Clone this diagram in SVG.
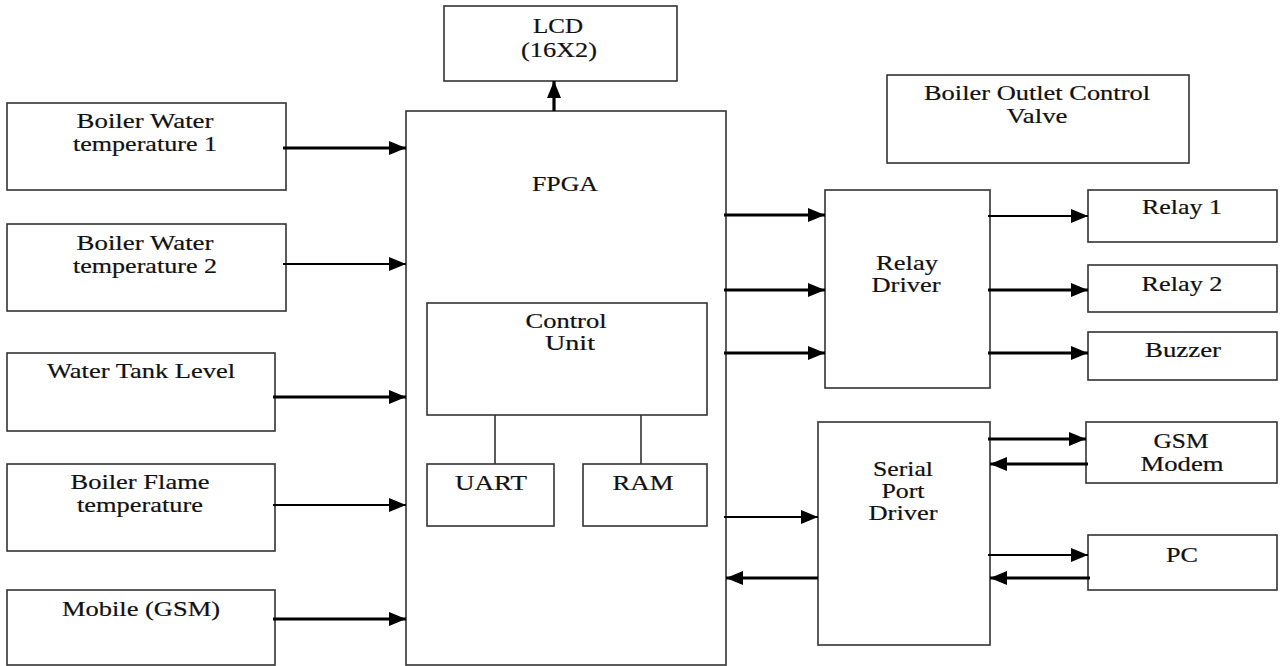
<svg xmlns="http://www.w3.org/2000/svg" width="1282" height="666" viewBox="0 0 1282 666">
<defs>
<style>
.box{fill:#fff;stroke:#333;stroke-width:1.6}
.t{font-family:"Liberation Serif","Times New Roman",serif;font-size:21px;fill:#111;text-anchor:middle;stroke:#111;stroke-width:0.2}
.thick{stroke:#000;stroke-width:3.2;fill:none}
.thin{stroke:#000;stroke-width:2;fill:none}
.link{stroke:#333;stroke-width:1.6;fill:none}
</style>
<marker id="ah" markerUnits="userSpaceOnUse" markerWidth="18" markerHeight="14" refX="17" refY="7" orient="auto">
<path d="M0,0 L17,7 L0,14 Z" fill="#000"/>
</marker>
</defs>
<rect width="1282" height="666" fill="#fff"/>

<g id="lcd"><rect class="box" x="444" y="6" width="233" height="75"/>
<text class="t" x="558" y="33" textLength="50" lengthAdjust="spacingAndGlyphs">LCD</text>
<text class="t" x="559" y="57" textLength="76" lengthAdjust="spacingAndGlyphs">(16X2)</text></g>

<g id="fpga"><rect class="box" x="406" y="111" width="320" height="554"/>
<text class="t" x="565" y="191" textLength="66" lengthAdjust="spacingAndGlyphs">FPGA</text></g>

<g id="control-unit"><rect class="box" x="427" y="303" width="280" height="112"/>
<text class="t" x="566" y="328" textLength="81" lengthAdjust="spacingAndGlyphs">Control</text>
<text class="t" x="570" y="350" textLength="50" lengthAdjust="spacingAndGlyphs">Unit</text></g>

<g id="uart"><rect class="box" x="427" y="464" width="127" height="62"/>
<text class="t" x="491" y="490" textLength="72" lengthAdjust="spacingAndGlyphs">UART</text></g>

<g id="ram"><rect class="box" x="583" y="464" width="124" height="62"/>
<text class="t" x="643" y="490" textLength="61" lengthAdjust="spacingAndGlyphs">RAM</text></g>

<g id="bwt1"><rect class="box" x="7" y="103" width="279" height="87"/>
<text class="t" x="145" y="128" textLength="137" lengthAdjust="spacingAndGlyphs">Boiler Water</text>
<text class="t" x="145" y="151" textLength="144" lengthAdjust="spacingAndGlyphs">temperature 1</text></g>

<g id="bwt2"><rect class="box" x="7" y="224" width="279" height="87"/>
<text class="t" x="145" y="250" textLength="137" lengthAdjust="spacingAndGlyphs">Boiler Water</text>
<text class="t" x="145" y="273" textLength="144" lengthAdjust="spacingAndGlyphs">temperature 2</text></g>

<g id="tank"><rect class="box" x="7" y="353" width="268" height="78"/>
<text class="t" x="141" y="378" textLength="188" lengthAdjust="spacingAndGlyphs">Water Tank Level</text></g>

<g id="flame"><rect class="box" x="7" y="464" width="268" height="87"/>
<text class="t" x="140" y="489" textLength="139" lengthAdjust="spacingAndGlyphs">Boiler Flame</text>
<text class="t" x="140" y="512" textLength="126" lengthAdjust="spacingAndGlyphs">temperature</text></g>

<g id="mobile"><rect class="box" x="7" y="590" width="268" height="75"/>
<text class="t" x="141" y="616" textLength="158" lengthAdjust="spacingAndGlyphs">Mobile (GSM)</text></g>

<g id="valve"><rect class="box" x="887" y="75" width="302" height="88"/>
<text class="t" x="1037" y="100" textLength="226" lengthAdjust="spacingAndGlyphs">Boiler Outlet Control</text>
<text class="t" x="1037" y="123" textLength="61" lengthAdjust="spacingAndGlyphs">Valve</text></g>

<g id="relay-driver"><rect class="box" x="825" y="190" width="165" height="198"/>
<text class="t" x="907" y="270" textLength="62" lengthAdjust="spacingAndGlyphs">Relay</text>
<text class="t" x="906" y="292" textLength="69" lengthAdjust="spacingAndGlyphs">Driver</text></g>

<g id="relay1"><rect class="box" x="1088" y="190" width="189" height="52"/>
<text class="t" x="1182" y="214" textLength="80" lengthAdjust="spacingAndGlyphs">Relay 1</text></g>

<g id="relay2"><rect class="box" x="1088" y="265" width="189" height="47"/>
<text class="t" x="1182" y="291" textLength="81" lengthAdjust="spacingAndGlyphs">Relay 2</text></g>

<g id="buzzer"><rect class="box" x="1088" y="332" width="189" height="48"/>
<text class="t" x="1183" y="357" textLength="76" lengthAdjust="spacingAndGlyphs">Buzzer</text></g>

<g id="serial-driver"><rect class="box" x="818" y="422" width="172" height="223"/>
<text class="t" x="903" y="476" textLength="60" lengthAdjust="spacingAndGlyphs">Serial</text>
<text class="t" x="903" y="498" textLength="43" lengthAdjust="spacingAndGlyphs">Port</text>
<text class="t" x="903" y="520" textLength="69" lengthAdjust="spacingAndGlyphs">Driver</text></g>

<g id="gsm-modem"><rect class="box" x="1086" y="422" width="191" height="61"/>
<text class="t" x="1181" y="448" textLength="55" lengthAdjust="spacingAndGlyphs">GSM</text>
<text class="t" x="1182" y="471" textLength="83" lengthAdjust="spacingAndGlyphs">Modem</text></g>

<g id="pc"><rect class="box" x="1088" y="535" width="189" height="55"/>
<text class="t" x="1182" y="562" textLength="32" lengthAdjust="spacingAndGlyphs">PC</text></g>

<g id="connectors">
<line class="thick" x1="554" y1="111" x2="554" y2="81" marker-end="url(#ah)"/>
<line class="thick" x1="283" y1="148" x2="406" y2="148" marker-end="url(#ah)"/>
<line class="thin" x1="283" y1="264" x2="406" y2="264" marker-end="url(#ah)"/>
<line class="thick" x1="273" y1="397" x2="406" y2="397" marker-end="url(#ah)"/>
<line class="thin" x1="273" y1="505" x2="406" y2="505" marker-end="url(#ah)"/>
<line class="thick" x1="273" y1="619" x2="406" y2="619" marker-end="url(#ah)"/>
<line class="link" x1="495" y1="415" x2="495" y2="464"/>
<line class="link" x1="641" y1="415" x2="641" y2="464"/>
<line class="thick" x1="724" y1="215" x2="825" y2="215" marker-end="url(#ah)"/>
<line class="thick" x1="724" y1="290" x2="825" y2="290" marker-end="url(#ah)"/>
<line class="thick" x1="724" y1="353" x2="825" y2="353" marker-end="url(#ah)"/>
<line class="thin" x1="988" y1="216" x2="1088" y2="216" marker-end="url(#ah)"/>
<line class="thick" x1="988" y1="290" x2="1088" y2="290" marker-end="url(#ah)"/>
<line class="thick" x1="988" y1="353" x2="1088" y2="353" marker-end="url(#ah)"/>
<line class="thin" x1="724" y1="517" x2="818" y2="517" marker-end="url(#ah)"/>
<line class="thick" x1="818" y1="578" x2="726" y2="578" marker-end="url(#ah)"/>
<line class="thick" x1="988" y1="439" x2="1086" y2="439" marker-end="url(#ah)"/>
<line class="thick" x1="1088" y1="464" x2="990" y2="464" marker-end="url(#ah)"/>
<line class="thin" x1="988" y1="555" x2="1088" y2="555" marker-end="url(#ah)"/>
<line class="thick" x1="1090" y1="578" x2="990" y2="578" marker-end="url(#ah)"/>
</g>
</svg>
